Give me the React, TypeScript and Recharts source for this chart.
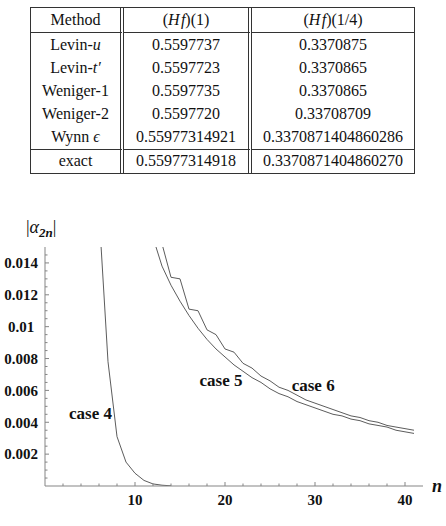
import React from "react";
import { LineChart, Line, XAxis, YAxis, ReferenceDot, Label } from "recharts";

// table values
const methodNames = ["Levin-", "Levin-", "Weniger-1", "Weniger-2", "Wynn "];
const methodSymbols = ["u", "t\u2032", "", "", "\u03f5"];
const hfOne = ["0.5597737", "0.5597723", "0.5597735", "0.5597720", "0.55977314921"];
const hfQuarter = ["0.3370875", "0.3370865", "0.3370865", "0.33708709", "0.3370871404860286"];
const exactOne = "0.55977314918";
const exactQuarter = "0.3370871404860270";

// |alpha_2n| against n
const case4N = [6, 7, 8, 9, 10, 11, 12, 13, 14];
const case4Vals = [0.0172, 0.0078, 0.0031, 0.0015, 0.0008, 0.00035, 0.00013, 0.00005, 0.00001];

const case5N = [12, 13, 14, 15, 16, 17, 18, 19, 20, 21, 22, 23, 24, 25, 26, 27, 28, 29, 30, 31, 32, 33, 34, 35, 36, 37, 38, 39, 40, 41];
const case5Vals = [
  0.0156, 0.0138, 0.0126, 0.0116, 0.0107, 0.0099, 0.0092, 0.0086, 0.0081, 0.0076,
  0.0072, 0.0068, 0.0065, 0.0061, 0.0058, 0.0056, 0.0053, 0.0051, 0.0049, 0.0047,
  0.0045, 0.0044, 0.0042, 0.0041, 0.0039, 0.0038, 0.0037, 0.0035, 0.0034, 0.0033,
];

const case6N = [13, 14, 15, 16, 17, 18, 19, 20, 21, 22, 23, 24, 25, 26, 27, 28, 29, 30, 31, 32, 33, 34, 35, 36, 37, 38, 39, 40, 41];
const case6Vals = [
  0.0152, 0.0131, 0.013, 0.0111, 0.011, 0.0098, 0.0095, 0.0086, 0.0084, 0.0077,
  0.0074, 0.0069, 0.0066, 0.0062, 0.006, 0.0057, 0.0054, 0.0052, 0.005, 0.0048,
  0.0046, 0.0044, 0.0043, 0.0041, 0.004, 0.0038, 0.0037, 0.0036, 0.0035,
];

const xTicks = [2, 4, 6, 8, 10, 12, 14, 16, 18, 20, 22, 24, 26, 28, 30, 32, 34, 36, 38, 40];
const xMajor = [10, 20, 30, 40];
const xMajorLabels = ["10", "20", "30", "40"];

const yTicks = [
  0.0005, 0.001, 0.0015, 0.002, 0.0025, 0.003, 0.0035, 0.004, 0.0045, 0.005,
  0.0055, 0.006, 0.0065, 0.007, 0.0075, 0.008, 0.0085, 0.009, 0.0095, 0.01,
  0.0105, 0.011, 0.0115, 0.012, 0.0125, 0.013, 0.0135, 0.014, 0.0145,
];
const yMajor = [0.002, 0.004, 0.006, 0.008, 0.01, 0.012, 0.014];
const yMajorLabels = ["0.002", "0.004", "0.006", "0.008", "0.01", "0.012", "0.014"];

const caseLabels = [
  { name: "case 4", n: 5.06, v: 0.00455 },
  { name: "case 5", n: 19.56, v: 0.00665 },
  { name: "case 6", n: 29.8, v: 0.00631 },
];

const toRows = (ns: number[], vals: number[]) => ns.map((n, i) => ({ n, v: vals[i] }));
const case4Data = toRows(case4N, case4Vals);
const case5Data = toRows(case5N, case5Vals);
const case6Data = toRows(case6N, case6Vals);

const SERIF = "'Liberation Serif', 'Times New Roman', serif";
const AXIS = "#858585";
const CURVE = "#4a4a4a";

const findMajor = (list: number[], v: number) => list.findIndex((m) => Math.abs(m - v) < 1e-9);

const YTick = (props: any) => {
  const { x, y, payload } = props;
  const idx = findMajor(yMajor, payload.value);
  return (
    <g>
      <line x1={x} x2={x + (idx >= 0 ? 4 : 2.5)} y1={y} y2={y} stroke={AXIS} strokeWidth={1} />
      {idx >= 0 && (
        <text x={x - 24} y={y} dy="0.35em" textAnchor="middle" fontFamily={SERIF} fontWeight="bold" fontSize={15} fill="#111">
          {yMajorLabels[idx]}
        </text>
      )}
    </g>
  );
};

const XTick = (props: any) => {
  const { x, y, payload } = props;
  const idx = findMajor(xMajor, payload.value);
  return (
    <g>
      <line x1={x} x2={x} y1={y} y2={y - (idx >= 0 ? 4 : 2.5)} stroke={AXIS} strokeWidth={1} />
      {idx >= 0 && (
        <text x={x} y={y + 14} dy="0.35em" textAnchor="middle" fontFamily={SERIF} fontWeight="bold" fontSize={15} fill="#111">
          {xMajorLabels[idx]}
        </text>
      )}
    </g>
  );
};

const AlphaLabel = (props: any) => {
  const vb = props.viewBox;
  return (
    <text x={vb.x + vb.width - 19} y={vb.y - 14} fontFamily={SERIF} fontSize={18} fill="#111">
      |<tspan fontStyle="italic">{"\u03b1"}</tspan>
      <tspan fontSize={13} fontStyle="italic" fontWeight="bold" dy={4}>2n</tspan>
      <tspan dy={-4}>|</tspan>
    </text>
  );
};

const NLabel = (props: any) => {
  const vb = props.viewBox;
  return (
    <text x={vb.x + vb.width + 9} y={vb.y + 6} fontFamily={SERIF} fontSize={18} fontStyle="italic" fontWeight="bold" fill="#111">
      n
    </text>
  );
};

const CaseLabel = (props: any) => {
  const vb = props.viewBox;
  return (
    <text x={vb.x} y={vb.y} dy="0.35em" textAnchor="middle" fontFamily={SERIF} fontSize={17} fontWeight="bold" fill="#111">
      {props.value}
    </text>
  );
};

const cellBase: React.CSSProperties = {
  display: "flex",
  alignItems: "center",
  justifyContent: "center",
  boxSizing: "border-box",
  whiteSpace: "nowrap",
};
const dbl = "4px double #333";

const Row = ({ cells, height, top }: { cells: React.ReactNode[]; height: number; top?: boolean }) => (
  <>
    {cells.map((c, i) => (
      <div
        key={i}
        style={{
          ...cellBase,
          height,
          borderRight: i < 2 ? dbl : undefined,
          borderTop: top ? "1px solid #333" : undefined,
        }}
      >
        {c}
      </div>
    ))}
  </>
);

const App: React.FC = () => {
  return (
    <div style={{ position: "absolute", left: 0, top: 0, width: 446, height: 526, background: "#fff" }}>
      <div style={{ position: "absolute", left: 0, top: 0 }}>
        <LineChart width={446} height={526} margin={{ top: 247, right: 23, bottom: 0, left: 0 }}>
          <XAxis
            dataKey="n"
            type="number"
            domain={[0, 42]}
            ticks={xTicks}
            interval={0}
            height={40}
            tickSize={0}
            tickMargin={0}
            tick={<XTick />}
            tickLine={false}
            axisLine={{ stroke: AXIS, strokeWidth: 1 }}
            allowDuplicatedCategory={false}
          >
            <Label content={<NLabel />} />
          </XAxis>
          <YAxis
            type="number"
            domain={[0, 0.015]}
            allowDataOverflow
            ticks={yTicks}
            interval={0}
            width={45}
            tickSize={0}
            tickMargin={0}
            tick={<YTick />}
            tickLine={false}
            axisLine={{ stroke: AXIS, strokeWidth: 1 }}
          >
            <Label content={<AlphaLabel />} />
          </YAxis>
          <Line data={case4Data} dataKey="v" type="linear" stroke={CURVE} strokeWidth={0.9} dot={false} isAnimationActive={false} />
          <Line data={case5Data} dataKey="v" type="linear" stroke={CURVE} strokeWidth={0.9} dot={false} isAnimationActive={false} />
          <Line data={case6Data} dataKey="v" type="linear" stroke={CURVE} strokeWidth={0.9} dot={false} isAnimationActive={false} />
          {caseLabels.map((c) => (
            <ReferenceDot key={c.name} x={c.n} y={c.v} r={0} fill="none" stroke="none" label={<CaseLabel value={c.name} />} />
          ))}
        </LineChart>
      </div>

      <div
        style={{
          position: "absolute",
          left: 30,
          top: 7,
          width: 385,
          boxSizing: "border-box",
          border: "1px solid #333",
          display: "grid",
          gridTemplateColumns: "93px 128px 162px",
          fontFamily: SERIF,
          fontSize: 16,
          color: "#111",
          background: "#fff",
        }}
      >
        <Row
          height={24}
          cells={[
            "Method",
            <span>(<i>H</i>&#8202;<i>f</i>)(1)</span>,
            <span>(<i>H</i>&#8202;<i>f</i>)(1/4)</span>,
          ]}
        />
        {methodNames.map((m, i) => (
          <Row
            key={m + i}
            height={i === 0 ? 24.2 : 23.2}
            top={i === 0}
            cells={[
              <span>
                {m}
                <i>{methodSymbols[i]}</i>
              </span>,
              hfOne[i],
              hfQuarter[i],
            ]}
          />
        ))}
        <Row height={24} top cells={["exact", exactOne, exactQuarter]} />
      </div>
    </div>
  );
};

export default App;
